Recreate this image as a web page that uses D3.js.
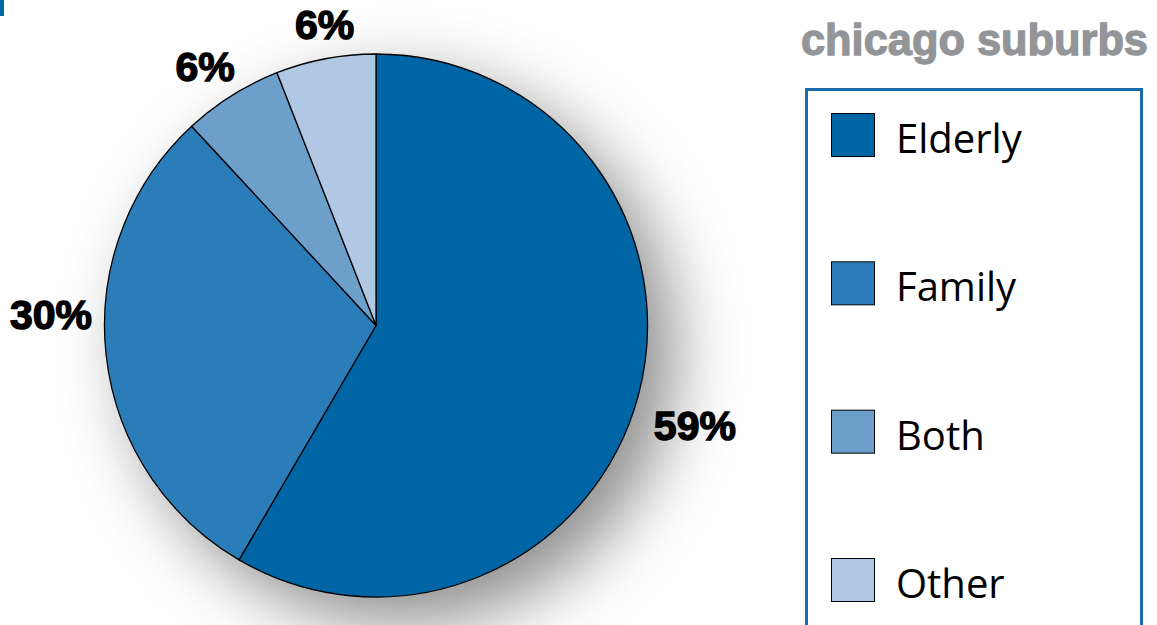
<!DOCTYPE html>
<html>
<head>
<meta charset="utf-8">
<script src="https://cdn.jsdelivr.net/npm/d3@7"></script>
<style>
  html, body { margin: 0; padding: 0; background: #fff; }
  svg { display: block; }
</style>
</head>
<body>
<svg id="chart" width="1157" height="625"></svg>
<script>
// Housing type shares, chicago suburbs
const categories = ["Elderly", "Family", "Both", "Other"];
const shares = [59, 30, 6, 6];
const shareLabels = ["59%", "30%", "6%", "6%"];
const sliceColors = ["#0065a4", "#2b7dba", "#6c9fca", "#b0c8e3"];
const chartTitle = "chicago suburbs";

// label nudges from the arc centroid, per slice
const labelNudge = [[10, 17], [-7, -45], [-1, 13], [8, 14]];

const svg = d3.select("#chart");
const cx = 376, cy = 325.5, radius = 271.5;

// soft drop shadow behind the pie
const defs = svg.append("defs");
const f = defs.append("filter").attr("id", "pieShadow")
  .attr("x", "-40%").attr("y", "-40%").attr("width", "180%").attr("height", "180%");
f.append("feGaussianBlur").attr("stdDeviation", 34);

svg.append("rect").attr("x", 0).attr("y", 0).attr("width", 4).attr("height", 16).attr("fill", "#0066a6");

const pie = d3.pie().sort(null).value(d => d)
  .startAngle(0).endAngle(2 * Math.PI);
const arcs = pie(shares);
const arc = d3.arc().innerRadius(0).outerRadius(radius);
const labelArc = d3.arc().innerRadius(320).outerRadius(320);

const g = svg.append("g").attr("transform", `translate(${cx},${cy})`);

g.append("circle")
  .attr("cx", 26).attr("cy", 26).attr("r", radius)
  .attr("fill", "#8c8c8c")
  .attr("filter", "url(#pieShadow)");

g.selectAll("path.slice")
  .data(arcs)
  .join("path")
  .attr("class", "slice")
  .attr("d", arc)
  .attr("fill", (d, i) => sliceColors[i])
  .attr("stroke", "#000")
  .attr("stroke-width", 1.3)
  .attr("stroke-linejoin", "round");

g.selectAll("text.pct")
  .data(arcs)
  .join("text")
  .attr("class", "pct")
  .attr("x", (d, i) => labelArc.centroid(d)[0] + labelNudge[i][0])
  .attr("y", (d, i) => labelArc.centroid(d)[1] + labelNudge[i][1])
  .attr("text-anchor", "middle")
  .attr("dominant-baseline", "central")
  .attr("font-family", "'Liberation Sans', Arial, sans-serif")
  .attr("font-weight", "bold")
  .attr("font-size", 41)
  .attr("fill", "#000")
  .attr("stroke", "#000")
  .attr("stroke-width", 1.4)
  .text((d, i) => shareLabels[i]);

// title
svg.append("text")
  .attr("x", 801).attr("y", 55)
  .attr("font-family", "'Liberation Sans', Arial, sans-serif")
  .attr("font-weight", "bold")
  .attr("font-size", 44)
  .attr("fill", "#939598")
  .attr("stroke", "#939598")
  .attr("stroke-width", 1.3)
  .attr("textLength", 347)
  .attr("lengthAdjust", "spacingAndGlyphs")
  .text(chartTitle);

// legend
const legendBox = svg.append("g");
legendBox.append("rect")
  .attr("x", 806.5).attr("y", 89.5)
  .attr("width", 335).attr("height", 600)
  .attr("fill", "none")
  .attr("stroke", "#1a6aac")
  .attr("stroke-width", 3);

const legendY = d3.scalePoint().domain(categories).range([135, 580]);

const items = legendBox.selectAll("g.item")
  .data(categories)
  .join("g")
  .attr("class", "item")
  .attr("transform", d => `translate(0,${legendY(d)})`);

items.append("rect")
  .attr("x", 831.5).attr("y", -21.5)
  .attr("width", 43).attr("height", 43)
  .attr("fill", (d, i) => sliceColors[i])
  .attr("stroke", "#000")
  .attr("stroke-width", 1);

items.append("text")
  .attr("x", 896).attr("y", 18)
  .attr("font-family", "'Open Sans', 'Noto Sans', sans-serif")
  .attr("font-size", 40)
  .attr("fill", "#000")
  .text(d => d);
</script>
</body>
</html>
